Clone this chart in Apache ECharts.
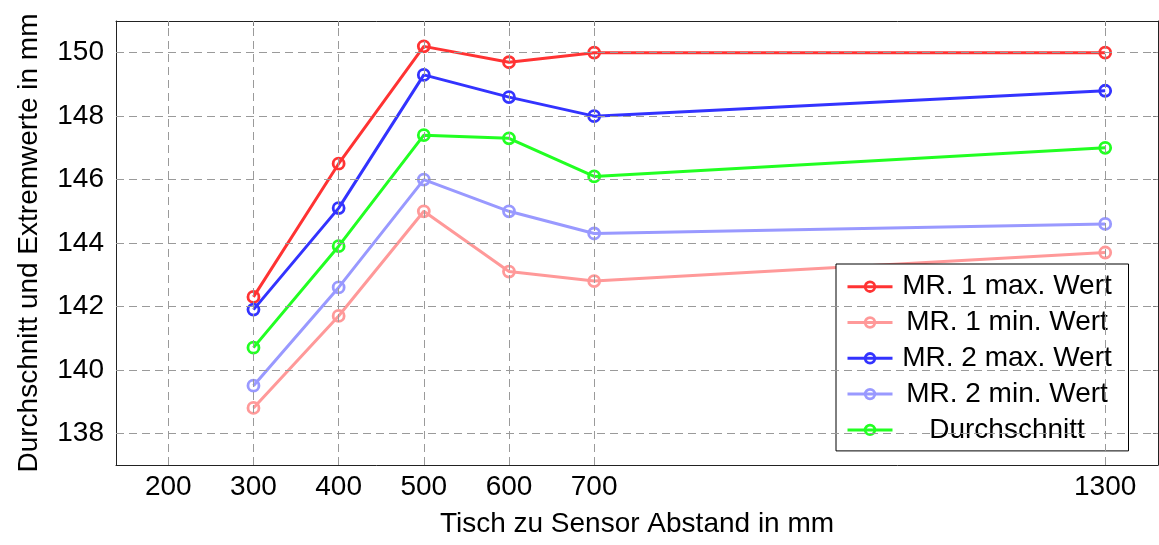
<!DOCTYPE html>
<html>
<head>
<meta charset="utf-8">
<script src="https://cdn.jsdelivr.net/npm/echarts@6/dist/echarts.min.js"></script>
<style>html,body{margin:0;padding:0;background:#fff;}#c{width:1159px;height:545px;}</style>
</head>
<body>
<div id="c"></div>
<script>
const xValues = [300, 400, 500, 600, 700, 1300];
const mr1Max = [142.3, 146.5, 150.2, 149.7, 150.0, 150.0];
const mr1Min = [138.8, 141.7, 145.0, 143.1, 142.8, 143.7];
const mr2Max = [141.9, 145.1, 149.3, 148.6, 148.0, 148.8];
const mr2Min = [139.5, 142.6, 146.0, 145.0, 144.3, 144.6];
const avg    = [140.7, 143.9, 147.4, 147.3, 146.1, 147.0];
const xTicks = [200, 300, 400, 500, 600, 700, 1300];
const yTicks = [138, 140, 142, 144, 146, 148, 150];
const seriesNames = ['MR. 1 max. Wert', 'MR. 1 min. Wert', 'MR. 2 max. Wert', 'MR. 2 min. Wert', 'Durchschnitt'];
const seriesColors = ['#ff3333', '#ff9999', '#3333ff', '#9999ff', '#22ff22'];
const seriesData = [mr1Max, mr1Min, mr2Max, mr2Min, avg];

const FONT = 'Liberation Sans, Arial, sans-serif';
const chart = echarts.init(document.getElementById('c'), null, {renderer: 'canvas'});

const XMIN = 138.6, XMAX = 1362, YMIN = 137, YMAX = 151;

const lineSeries = seriesNames.map((n, i) => ({
  name: n,
  type: 'line',
  data: xValues.map((x, j) => [x, seriesData[i][j]]),
  symbol: 'circle',
  symbolSize: 11,
  color: seriesColors[i],
  lineStyle: {width: 3, color: seriesColors[i]},
  itemStyle: {color: 'rgba(255,255,255,0)', borderWidth: 2.8, borderColor: seriesColors[i]},
  z: 3,
  animation: false
}));

const gridSeries = {
  name: '__grid',
  type: 'line',
  data: [],
  silent: true,
  z: 1,
  markLine: {
    silent: true,
    symbol: ['none', 'none'],
    label: {show: false},
    animation: false,
    lineStyle: {color: '#9a9a9a', type: [8, 5], width: 1},
    data: xTicks.map(v => ({xAxis: v})).concat(yTicks.map(v => ({yAxis: v})))
  }
};

const tickStyle = {show: true, inside: true, length: 5, lineStyle: {color: '#777', width: 1}};

chart.setOption({
  animation: false,
  backgroundColor: '#fff',
  grid: {left: 116, right: 1, top: 21, bottom: 80},
  xAxis: [{
    type: 'value', min: XMIN, max: XMAX, position: 'bottom',
    name: 'Tisch zu Sensor Abstand in mm', nameLocation: 'middle', nameGap: 45,
    nameTextStyle: {fontFamily: FONT, fontSize: 28, color: '#000'},
    axisLine: {show: true, onZero: false, lineStyle: {color: '#222', width: 1}},
    axisTick: Object.assign({customValues: xTicks}, tickStyle),
    axisLabel: {customValues: xTicks, formatter: v => String(v), fontFamily: FONT, fontSize: 28, color: '#000', margin: 8},
    splitLine: {show: false}
  }, {
    type: 'value', min: XMIN, max: XMAX, position: 'top',
    axisLine: {show: true, onZero: false, lineStyle: {color: '#222', width: 1}},
    axisTick: Object.assign({customValues: xTicks}, tickStyle),
    axisLabel: {show: false},
    splitLine: {show: false}
  }],
  yAxis: [{
    type: 'value', min: YMIN, max: YMAX, position: 'left',
    name: 'Durchschnitt und Extremwerte in mm', nameLocation: 'middle', nameGap: 73, nameRotate: 90,
    nameTextStyle: {fontFamily: FONT, fontSize: 28, color: '#000'},
    axisLine: {show: true, onZero: false, lineStyle: {color: '#222', width: 1}},
    axisTick: Object.assign({customValues: yTicks}, tickStyle),
    axisLabel: {customValues: yTicks, formatter: v => String(v), fontFamily: FONT, fontSize: 28, color: '#000', margin: 12},
    splitLine: {show: false}
  }, {
    type: 'value', min: YMIN, max: YMAX, position: 'right',
    axisLine: {show: true, onZero: false, lineStyle: {color: '#222', width: 1}},
    axisTick: Object.assign({customValues: yTicks}, tickStyle),
    axisLabel: {show: false},
    splitLine: {show: false}
  }],
  legend: {
    data: seriesNames,
    orient: 'vertical',
    left: 836, top: 264,
    padding: [8.7, 12, 7, 10],
    itemGap: 7.8,
    itemWidth: 45,
    itemHeight: 12,
    backgroundColor: '#fff',
    borderColor: '#000',
    borderWidth: 1,
    borderRadius: 0,
    lineStyle: {width: 3},
    itemStyle: {borderWidth: 2.8},
    formatter: n => '{t|' + n + '}',
    textStyle: {
      fontFamily: FONT, fontSize: 28, color: '#000',
      rich: {t: {fontFamily: FONT, fontSize: 28, color: '#000', width: 219, align: 'center', lineHeight: 30}}
    }
  },
  series: [gridSeries].concat(lineSeries)
});
</script>
</body>
</html>
